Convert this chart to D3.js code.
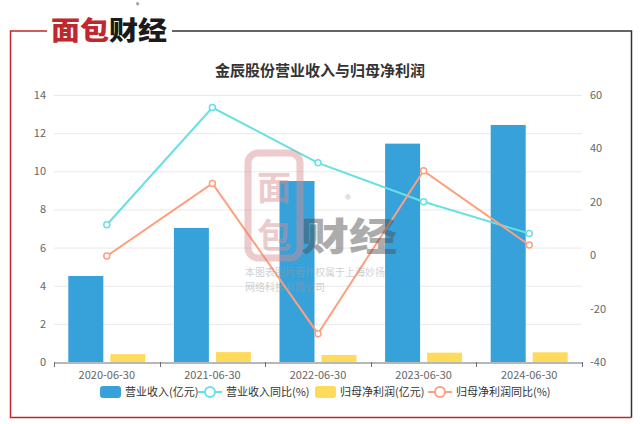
<!DOCTYPE html>
<html>
<head>
<meta charset="utf-8">
<script src="https://cdn.jsdelivr.net/npm/d3@7"></script>
<style>
  body { margin: 0; background: #fff; }
  svg { display: block; font-family: "Noto Sans CJK SC", "Noto Sans", sans-serif; }
</style>
</head>
<body>
<div id="chart"></div>
<script>
// Chart data
const categories = ["2020-06-30", "2021-06-30", "2022-06-30", "2023-06-30", "2024-06-30"];
const revenue = [4.51, 7.03, 9.49, 11.45, 12.43];        // 营业收入(亿元)
const revenueYoY = [11.4, 55.3, 34.6, 20.0, 8.1];         // 营业收入同比(%)
const netProfit = [0.41, 0.52, 0.37, 0.49, 0.51];         // 归母净利润(亿元)
const netProfitYoY = [-0.3, 26.9, -29.4, 31.6, 3.8];      // 归母净利润同比(%)
const leftTicks = [0, 2, 4, 6, 8, 10, 12, 14];
const rightTicks = [-40, -20, 0, 20, 40, 60];

function init() {
    const width = 640, height = 424;
    const colors = { bar1: "#37a2da", line1: "#67e0e3", bar2: "#ffdb5c", line2: "#ff9f7f" };

    const svg = d3.select("#chart")
        .append("svg")
        .attr("width", width)
        .attr("height", height);

    // Frame around the chart
    const red = "#c0282d", dark = "#333";
    svg.append("path").attr("d", "M47,31H10.5V417.5H631.5").attr("fill", "none").attr("stroke", red).attr("stroke-width", 1.5);
    svg.append("path").attr("d", "M172,31H631.5V417.5").attr("fill", "none").attr("stroke", dark).attr("stroke-width", 1.5);

    // Logo
    const logo = svg.append("text").attr("x", 51).attr("y", 40)
        .attr("font-size", 26).attr("font-weight", 900)
        .attr("textLength", 116).attr("lengthAdjust", "spacingAndGlyphs");
    logo.append("tspan").attr("fill", red).text("面包");
    logo.append("tspan").attr("fill", "#1a1a1a").text("财经");
    svg.append("text").attr("x", 136).attr("y", 8).attr("font-size", 7).attr("fill", "#333").text("®");

    // Title
    svg.append("text").attr("x", 320).attr("y", 76).attr("text-anchor", "middle")
        .attr("font-size", 15).attr("font-weight", "bold").attr("fill", "#333")
        .text("金辰股份营业收入与归母净利润");

    const margin = { left: 54, right: 58, top: 95, bottom: 62 };
    const plotW = width - margin.left - margin.right;
    const yBottom = height - margin.bottom;

    const x = d3.scaleBand().domain(categories).range([margin.left, margin.left + plotW]);
    const yL = d3.scaleLinear().domain([0, 14]).range([yBottom, margin.top]);
    const yR = d3.scaleLinear().domain([-40, 60]).range([yBottom, margin.top]);

    // Gridlines
    svg.append("g").selectAll("line").data(leftTicks.slice(1)).enter().append("line")
        .attr("x1", margin.left).attr("x2", margin.left + plotW)
        .attr("y1", d => yL(d) + 0.5).attr("y2", d => yL(d) + 0.5)
        .attr("stroke", "#e9e9e9");

    // Left axis labels
    svg.append("g").selectAll("text").data(leftTicks).enter().append("text")
        .attr("x", margin.left - 8).attr("y", d => yL(d) + 4)
        .attr("text-anchor", "end").attr("font-size", 11).attr("fill", "#666")
        .text(d => d);

    // Right axis labels
    svg.append("g").selectAll("text").data(rightTicks).enter().append("text")
        .attr("x", margin.left + plotW + 8).attr("y", d => yR(d) + 4)
        .attr("text-anchor", "start").attr("font-size", 11).attr("fill", "#666")
        .text(d => d);

    // Bars
    const barW = 35, gap = 7;
    const center = d => x(d) + x.bandwidth() / 2;
    svg.append("g").selectAll("rect").data(revenue).enter().append("rect")
        .attr("x", (d, i) => center(categories[i]) - gap / 2 - barW)
        .attr("y", d => yL(d)).attr("width", barW).attr("height", d => yBottom - yL(d))
        .attr("fill", colors.bar1);
    svg.append("g").selectAll("rect").data(netProfit).enter().append("rect")
        .attr("x", (d, i) => center(categories[i]) + gap / 2)
        .attr("y", d => yL(d)).attr("width", barW).attr("height", d => yBottom - yL(d))
        .attr("fill", colors.bar2);

    // X axis
    const xAxis = svg.append("g").attr("transform", `translate(0,${yBottom + 0.5})`)
        .call(d3.axisBottom(x).tickSize(0).tickPadding(9));
    xAxis.select(".domain").attr("stroke", "#6e7079");
    xAxis.selectAll("text").attr("font-size", 11).attr("fill", "#666")
        .attr("font-family", "'Noto Sans CJK SC', 'Noto Sans', sans-serif");
    const bounds = categories.map(c => x(c)).concat([margin.left + plotW]);
    svg.append("g").selectAll("line").data(bounds).enter().append("line")
        .attr("x1", d => Math.round(d) + 0.5).attr("x2", d => Math.round(d) + 0.5)
        .attr("y1", yBottom).attr("y2", yBottom + 5).attr("stroke", "#6e7079");

    // Lines
    function drawLine(values, color) {
        const line = d3.line().x((d, i) => center(categories[i])).y(d => yR(d));
        svg.append("path").datum(values).attr("d", line)
            .attr("fill", "none").attr("stroke", color).attr("stroke-width", 2);
        svg.append("g").selectAll("circle").data(values).enter().append("circle")
            .attr("cx", (d, i) => center(categories[i])).attr("cy", d => yR(d))
            .attr("r", 3).attr("fill", "#fff").attr("stroke", color).attr("stroke-width", 1.5);
    }
    drawLine(revenueYoY, colors.line1);
    drawLine(netProfitYoY, colors.line2);

    // Watermark
    const wm = svg.append("g").attr("opacity", 0.45);
    wm.append("rect").attr("x", 248).attr("y", 153).attr("width", 52).attr("height", 105).attr("rx", 10)
        .attr("fill", "none").attr("stroke", "#d98b8f").attr("stroke-width", 7);
    wm.append("text").attr("x", 274).attr("y", 200).attr("text-anchor", "middle").attr("font-size", 34)
        .attr("font-weight", "bold").attr("fill", "#d98b8f").text("面");
    wm.append("text").attr("x", 274).attr("y", 248).attr("text-anchor", "middle").attr("font-size", 34)
        .attr("font-weight", "bold").attr("fill", "#d98b8f").text("包");
    wm.append("text").attr("x", 301).attr("y", 250).attr("font-size", 38).attr("font-weight", 900)
        .attr("fill", "#4a4a4a").attr("textLength", 96).attr("lengthAdjust", "spacingAndGlyphs").text("财经");
    wm.append("text").attr("x", 345).attr("y", 204).attr("font-size", 12).attr("fill", "#777").text("®");
    wm.append("text").attr("x", 245).attr("y", 276).attr("font-size", 10).attr("fill", "#999")
        .text("本图表图片著作权属于上海妙扬");
    wm.append("text").attr("x", 245).attr("y", 291).attr("font-size", 10).attr("fill", "#999")
        .text("网络科技有限公司");

    // Legend
    const legend = [
        { name: "营业收入(亿元)", color: colors.bar1, type: "bar", x: 100 },
        { name: "营业收入同比(%)", color: colors.line1, type: "line", x: 198 },
        { name: "归母净利润(亿元)", color: colors.bar2, type: "bar", x: 315 },
        { name: "归母净利润同比(%)", color: colors.line2, type: "line", x: 428 }
    ];
    const ly = 392;
    const items = svg.append("g").selectAll("g").data(legend).enter().append("g")
        .attr("transform", d => `translate(${d.x},${ly})`);
    items.filter(d => d.type === "bar").append("rect")
        .attr("x", 0).attr("y", -6).attr("width", 21).attr("height", 12).attr("rx", 3)
        .attr("fill", d => d.color);
    items.filter(d => d.type === "line").append("line")
        .attr("x1", 0).attr("x2", 24).attr("y1", 0).attr("y2", 0)
        .attr("stroke", d => d.color).attr("stroke-width", 2);
    items.filter(d => d.type === "line").append("circle")
        .attr("cx", 12).attr("cy", 0).attr("r", 5)
        .attr("fill", "#fff").attr("stroke", d => d.color).attr("stroke-width", 2);
    items.append("text")
        .attr("x", d => d.type === "bar" ? 25 : 28).attr("y", 4)
        .attr("font-size", 11).attr("fill", "#333")
        .text(d => d.name);
}

init();
</script>
</body>
</html>
